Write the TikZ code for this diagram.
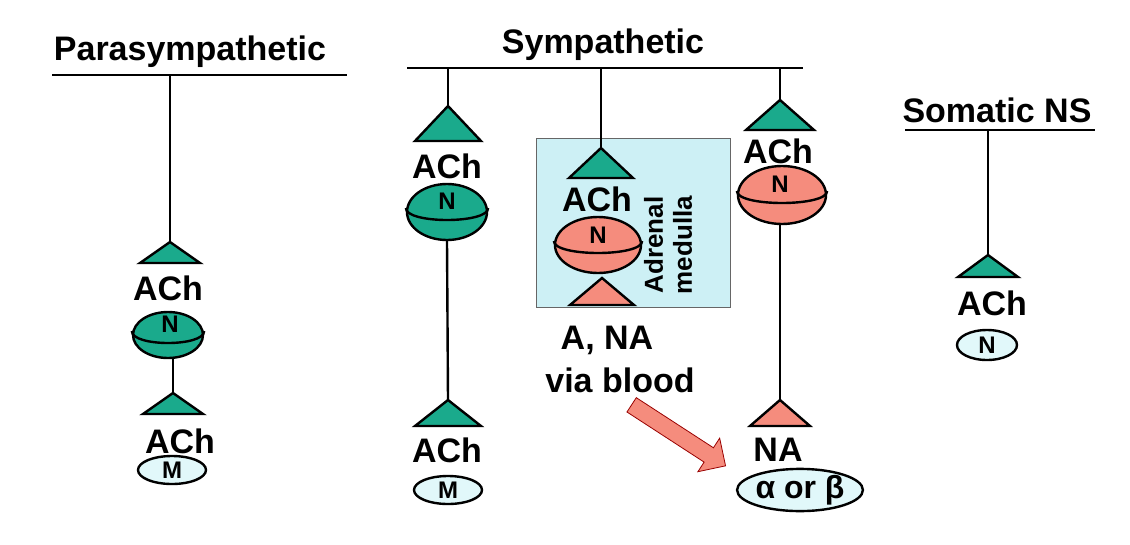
\documentclass[tikz,border=0pt]{standalone}
\usepackage{fontspec}
\setmainfont{Liberation Sans}
\usetikzlibrary{shapes.geometric,shapes.arrows}
\definecolor{recgreen}{RGB}{26,170,140}
\definecolor{recpink}{RGB}{245,140,125}
\definecolor{reclight}{RGB}{225,248,250}
\definecolor{boxcyan}{RGB}{205,240,245}
\tikzset{
lbl/.style={font=\fontsize{34}{36}\bfseries\selectfont,inner sep=0pt},
title/.style={font=\fontsize{34}{36}\bfseries\selectfont,inner sep=0pt},
rec/.style={draw,ellipse,inner sep=0pt,line width=2.4pt},
rtext/.style={font=\fontsize{24}{26}\bfseries\selectfont,inner sep=0pt},
}
% synapse triangle: apex x,y ; half width ; height ; colour ; name
\newcommand{\syn}[6]{%
  \coordinate (#6) at (#1,#2);
  \filldraw[fill=#5,line width=2.4pt] (#1,#2) -- ++(#3,#4) -- ++(-2*#3,0) -- cycle;
}
% cup line inside a receptor
\newcommand{\reccup}[1]{%
  \draw ([yshift=4pt]#1.west) .. controls +(0,16) and +(0,16) .. ([yshift=4pt]#1.east);
}
\begin{document}
\begin{tikzpicture}[x=1pt,y=-1pt,line width=2.4pt]
\useasboundingbox (0,0) rectangle (1130,544);

% parasympathetic
\node[title] (para) at (190,52) {Parasympathetic};
\draw (52,75) -- (347,75);
\coordinate (pbar) at (170,75);
\syn{170}{242}{30}{21}{recgreen}{pt1}
\draw (pbar) -- (pt1);
\node[lbl] (pach1) at (168,288) {ACh};
\node[rec,fill=recgreen,minimum width=70,minimum height=46] (pn) at (168,335) {};
\reccup{pn}
\node[rtext] at (170,324) {N};
\syn{173}{393}{30}{21}{recgreen}{pt2}
\draw (pn.south -| pt2) -- (pt2);
\node[lbl] (pach2) at (180,441) {ACh};
\node[rec,fill=reclight,minimum width=68,minimum height=28] (pm) at (172,470) {};
\node[rtext] at (pm) {M};

% sympathetic
\node[title] (symp) at (603,45) {Sympathetic};
\draw (407,68) -- (803,68);
\coordinate (sb1) at (448,68);
\coordinate (sb2) at (601,68);
\coordinate (sb3) at (780,68);

% left chain
\syn{448}{106}{33}{35}{recgreen}{st1}
\draw (sb1) -- (st1);
\node[lbl] (sach1) at (447,166) {ACh};
\node[rec,fill=recgreen,minimum width=80,minimum height=56] (sn1) at (447,212) {};
\reccup{sn1}
\node[rtext] at (447,201) {N};
\syn{448}{400}{33}{26}{recgreen}{st2}
\draw (sn1.south) -- (st2);
\node[lbl] (sach2) at (447,450) {ACh};
\node[rec,fill=reclight,minimum width=68,minimum height=28] (sm) at (448,490) {};
\node[rtext] at (sm) {M};

% adrenal medulla
\filldraw[fill=boxcyan,draw=black!60,line width=1pt] (536,138) rectangle (730,307);
\syn{601}{148}{32}{30}{recgreen}{st3}
\draw (sb2) -- (st3);
\node[lbl] (sach3) at (597,199) {ACh};
\node[rec,fill=recpink,minimum width=86,minimum height=56] (sn2) at (598,245) {};
\reccup{sn2}
\node[rtext] at (598,235) {N};
\syn{602}{278}{32}{27}{recpink}{st4}
\node[font=\fontsize{26}{29}\bfseries\selectfont,rotate=90,align=center,inner sep=0pt] (adr) at (668,245) {Adrenal\\medulla};
\node[lbl] (ana) at (607,340) {A, NA};
\node[lbl] (blood) at (620,380) {via blood};
\node[single arrow,draw=red!60!black,fill=recpink,line width=0.8pt,
  minimum height=112,minimum width=40,single arrow head extend=5pt,
  rotate=-33] (bl) at (675,433) {};

% right chain
\syn{780}{100}{34}{30}{recgreen}{st5}
\draw (sb3) -- (st5);
\node[lbl] (sach4) at (778,151) {ACh};
\node[rec,fill=recpink,minimum width=88,minimum height=58] (sn3) at (782,195) {};
\reccup{sn3}
\node[rtext] at (780,184) {N};
\syn{780}{400}{30}{26}{recpink}{st6}
\draw (sn3.south -| st6) -- (st6);
\node[lbl] (na) at (778,450) {NA};
\node[rec,fill=reclight,minimum width=122,minimum height=42,
  font=\fontsize{32}{34}\bfseries\selectfont] (ab) at (800,490) {α or β};

% somatic
\node[title] (som) at (997,110) {Somatic NS};
\draw (905,130) -- (1095,130);
\coordinate (mb) at (988,130);
\syn{988}{255}{30}{22}{recgreen}{mt}
\draw (mb) -- (mt);
\node[lbl] (mach) at (992,303) {ACh};
\node[rec,fill=reclight,minimum width=60,minimum height=30] (mn) at (987,345) {};
\node[rtext] at (mn) {N};
\end{tikzpicture}
\end{document}
